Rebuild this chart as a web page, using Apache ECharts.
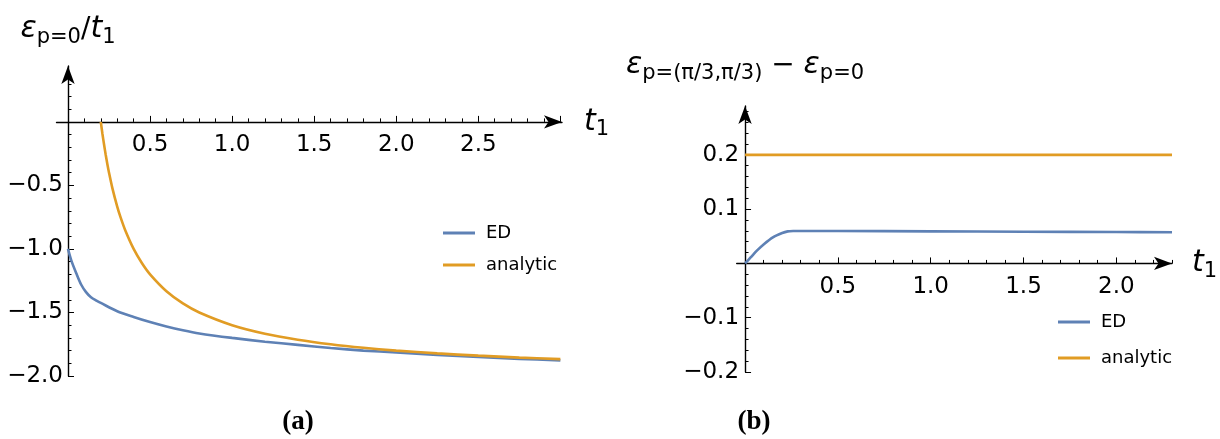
<!DOCTYPE html>
<html>
<head>
<meta charset="utf-8">
<script src="https://cdn.jsdelivr.net/npm/echarts@6/dist/echarts.min.js"></script>
<style>
  html, body { margin: 0; padding: 0; background: #fff; }
  #chart { width: 1220px; height: 439px; }
</style>
</head>
<body>
<div id="chart"></div>
<script>
// ---- Panel (a): ground-state energy per hopping, ED vs analytic ----
const tA_ed = [0, 0.02, 0.05, 0.08, 0.11, 0.14, 0.17, 0.2, 0.3, 0.4, 0.5, 0.6, 0.7, 0.8, 1.0, 1.2, 1.4, 1.6, 1.8, 2.0, 2.25, 2.5, 2.75, 3.0];
const eA_ed = [-1.0, -1.09, -1.19, -1.28, -1.34, -1.38, -1.405, -1.425, -1.49, -1.535, -1.575, -1.61, -1.64, -1.665, -1.70, -1.73, -1.755, -1.78, -1.80, -1.815, -1.835, -1.85, -1.865, -1.877];
const tA_an = [0.2, 0.21, 0.22, 0.23, 0.24, 0.25, 0.27, 0.3, 0.32, 0.35, 0.4, 0.45, 0.5, 0.6, 0.7, 0.8, 1.0, 1.2, 1.4, 1.6, 1.8, 2.0, 2.25, 2.5, 2.75, 3.0];
const eA_an = [0, -0.095, -0.18, -0.26, -0.333, -0.4, -0.519, -0.667, -0.75, -0.857, -1.0, -1.111, -1.2, -1.333, -1.429, -1.5, -1.6, -1.667, -1.714, -1.75, -1.778, -1.8, -1.822, -1.84, -1.855, -1.867];

// ---- Panel (b): energy difference between p=(pi/3,pi/3) and p=0 ----
const tB_ed = [0, 0.03, 0.065, 0.1, 0.15, 0.2, 0.23, 0.26, 0.3, 0.5, 1.0, 1.5, 2.0, 2.3];
const eB_ed = [0, 0.011, 0.024, 0.035, 0.048, 0.056, 0.059, 0.0597, 0.0598, 0.0597, 0.0591, 0.0584, 0.0578, 0.0575];
const tB_an = [0, 2.3];
const eB_an = [0.2, 0.2];

// tick labels
const ticksAx = [0.5, 1.0, 1.5, 2.0, 2.5];
const ticksAy = [-2.0, -1.5, -1.0, -0.5];
const ticksBx = [0.5, 1.0, 1.5, 2.0];
const ticksBy = [-0.2, -0.1, 0.1, 0.2];

const BLUE = '#5E81B5';
const ORANGE = '#E19C24';
const FONT = 'DejaVu Sans';

// plotting frames and axis ranges of the two panels
const G = [
  { left: 56.5, top: 66, width: 505.5, height: 310, x: [-0.07, 3.01], y: [-2.0, 0.44] },
  { left: 736.7, top: 106, width: 435.3, height: 266, x: [-0.045, 2.3], y: [-0.2, 0.29] }
];
// shift that moves each axis line through the origin of the other axis
const xShift = g => -(0 - g.y[0]) * g.height / (g.y[1] - g.y[0]);
const yShift = g => -(0 - g.x[0]) * g.width / (g.x[1] - g.x[0]);

const zip = (xs, ys) => xs.map((x, i) => [x, ys[i]]);
const fmt = v => v.toFixed(1).replace('-', '\u2212');

// evenly spaced minor tick positions, skipping the majors and zero
function minorTicks(from, to, step, majors) {
  const out = [];
  const n = Math.round((to - from) / step);
  for (let i = 0; i <= n; i++) {
    const v = Math.round((from + i * step) * 1000) / 1000;
    if (Math.abs(v) < 1e-9) continue;
    if (majors.some(m => Math.abs(m - v) < 1e-9)) continue;
    out.push(v);
  }
  return out;
}

function mainAxis(grid, range, labels, majors, pos, offset, margin, extra) {
  return Object.assign({
    type: 'value', gridIndex: grid, min: range[0], max: range[1], position: pos, offset: offset,
    axisLine: { show: true, onZero: false, symbol: ['none', 'arrow'], symbolSize: [10, 18],
                lineStyle: { color: '#000', width: 1.4 } },
    splitLine: { show: false },
    axisTick: { show: true, inside: true, length: 6, lineStyle: { color: '#000', width: 1 }, customValues: majors },
    axisLabel: { show: true, customValues: labels, formatter: fmt, color: '#000',
                 fontFamily: FONT, fontSize: 23, margin: margin }
  }, extra || {});
}
function minorAxis(grid, range, values, pos, offset) {
  return {
    type: 'value', gridIndex: grid, min: range[0], max: range[1], position: pos, offset: offset,
    axisLine: { show: false, onZero: false },
    splitLine: { show: false },
    axisTick: { show: true, inside: true, length: 3.5, lineStyle: { color: '#000', width: 1 }, customValues: values },
    axisLabel: { show: false }
  };
}

const nameRich = {
  e: { fontFamily: FONT, fontStyle: 'italic', fontSize: 30, color: '#000' },
  t: { fontFamily: FONT, fontStyle: 'italic', fontSize: 30, color: '#000' },
  n: { fontFamily: FONT, fontSize: 28, color: '#000' },
  s: { fontFamily: FONT, fontSize: 21, color: '#000', padding: [16, 0, 0, 0] }
};

const legendText = { fontFamily: FONT, fontSize: 18, color: '#000', padding: [0, 0, 0, 6] };
const captionText = { fontFamily: 'Liberation Serif', fontWeight: 'bold', fontSize: 27, color: '#000' };

const chart = echarts.init(document.getElementById('chart'), null, { renderer: 'canvas' });

chart.setOption({
  animation: false,
  backgroundColor: '#fff',
  grid: G.map(g => ({ left: g.left, top: g.top, width: g.width, height: g.height,
                      containLabel: false, outerBoundsMode: 'none' })),
  title: [
    { text: '(a)', left: 293, top: 404, textAlign: 'center', textStyle: captionText },
    { text: '(b)', left: 749, top: 404, textAlign: 'center', textStyle: captionText }
  ],
  legend: [
    { orient: 'vertical', left: 438, top: 219, icon: 'rect', itemWidth: 32, itemHeight: 3, itemGap: 14,
      data: ['ED', 'analytic'], textStyle: legendText },
    { orient: 'vertical', left: 1053, top: 308, icon: 'rect', itemWidth: 32, itemHeight: 3, itemGap: 18,
      data: ['ED', 'analytic'], textStyle: legendText }
  ],
  xAxis: [
    mainAxis(0, G[0].x, ticksAx, ticksAx.concat([3.0]), 'bottom', xShift(G[0]), 12, {
      name: '{t|t}{s|1}', nameLocation: 'end', nameGap: 22,
      nameTextStyle: { rich: nameRich, align: 'left', verticalAlign: 'middle' }
    }),
    minorAxis(0, G[0].x, minorTicks(0, 3.0, 0.1, ticksAx.concat([3.0])), 'bottom', xShift(G[0])),
    mainAxis(1, G[1].x, ticksBx, ticksBx, 'bottom', xShift(G[1]), 12, {
      name: '{t|t}{s|1}', nameLocation: 'end', nameGap: 20,
      nameTextStyle: { rich: nameRich, align: 'left', verticalAlign: 'middle' }
    }),
    minorAxis(1, G[1].x, minorTicks(0, 2.3, 0.1, ticksBx), 'bottom', xShift(G[1]))
  ],
  yAxis: [
    mainAxis(0, G[0].y, ticksAy, ticksAy, 'left', yShift(G[0]), 5, {
      name: '{e|\u03b5}{s|p=0}{n|/}{t|t}{s|1}', nameLocation: 'end', nameGap: 18,
      nameTextStyle: { rich: nameRich, align: 'center' }
    }),
    minorAxis(0, G[0].y, minorTicks(-2.0, 0.3, 0.1, ticksAy.concat([0])), 'left', yShift(G[0])),
    mainAxis(1, G[1].y, ticksBy, ticksBy, 'left', yShift(G[1]), 6, {
      name: '{e|\u03b5}{s|p=(\u03c0/3,\u03c0/3)}{n| \u2212 }{e|\u03b5}{s|p=0}', nameLocation: 'end', nameGap: 22,
      nameTextStyle: { rich: nameRich, align: 'center' }
    }),
    minorAxis(1, G[1].y, minorTicks(-0.2, 0.28, 0.02, ticksBy), 'left', yShift(G[1]))
  ],
  series: [
    { name: 'ED', type: 'line', xAxisIndex: 0, yAxisIndex: 0, data: zip(tA_ed, eA_ed),
      showSymbol: false, smooth: 0.3, lineStyle: { color: BLUE, width: 2.6 }, itemStyle: { color: BLUE } },
    { name: 'analytic', type: 'line', xAxisIndex: 0, yAxisIndex: 0, data: zip(tA_an, eA_an),
      showSymbol: false, smooth: 0.3, lineStyle: { color: ORANGE, width: 2.6 }, itemStyle: { color: ORANGE } },
    { name: 'ED', type: 'line', xAxisIndex: 2, yAxisIndex: 2, data: zip(tB_ed, eB_ed),
      showSymbol: false, smooth: 0.3, lineStyle: { color: BLUE, width: 2.6 }, itemStyle: { color: BLUE } },
    { name: 'analytic', type: 'line', xAxisIndex: 2, yAxisIndex: 2, data: zip(tB_an, eB_an),
      showSymbol: false, lineStyle: { color: ORANGE, width: 2.6 }, itemStyle: { color: ORANGE } }
  ]
});
</script>
</body>
</html>
